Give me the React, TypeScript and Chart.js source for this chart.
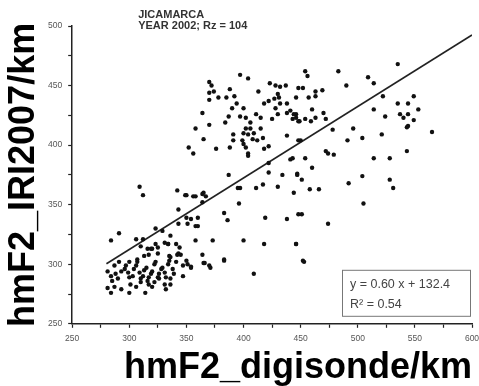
import React, { useEffect, useRef } from "react";
import { Chart, registerables } from "chart.js";

Chart.register(...registerables);

const headerLines = ["JICAMARCA", "YEAR 2002; Rz = 104"];
const xAxisTitle = "hmF2_digisonde/km";
const yAxisTitle = "hmF2_IRI2007/km";
const fitSlope = 0.6;
const fitIntercept = 132.4;
const fitRange = [280, 600];
const fitLabel = "y = 0.60 x + 132.4";
const r2Label = "R\u00B2 = 0.54";

// hmF2 from digisonde (x) and IRI2007 (y), km
const digisondeKm = [
  397, 404, 370, 372, 370, 374, 388, 370, 378, 385, 392, 394, 390, 400, 413, 423, 428, 432, 437, 430,
  431, 427, 422, 418, 432, 438, 428, 430, 425, 438, 441, 446, 443, 448, 448, 446, 364, 358, 370, 384,
  387, 397, 402, 406, 411, 415, 402, 400, 404, 406, 409, 415, 417, 412, 408, 391, 391, 399, 400, 402,
  404, 365, 352, 356, 376, 388, 418, 422, 438, 448, 404, 441, 422,
  387, 422, 434, 447, 397, 395, 411, 417, 430, 444, 396, 383, 386, 419, 438, 448, 350, 358, 364, 365,
  367, 364, 350, 354, 360, 358, 358, 373, 400, 418, 446, 364, 365, 370, 350, 354, 383, 409, 452,
  535, 454, 456, 483, 509, 514, 490, 452, 463, 469, 457, 463, 522, 460, 444, 446, 449, 454, 459, 463,
  470, 472, 535, 537, 540, 544, 514, 524, 544, 478, 496, 504, 521, 450, 491, 472, 474, 479, 443, 454,
  514, 528, 543,
  549, 544, 553, 549, 543, 565,
  460, 447, 451, 458, 466, 492, 504, 528, 531, 505, 451, 474, 446, 453,
  309, 312, 342, 349, 356, 343,
  284, 291, 281, 284, 300, 314, 332, 336, 347, 351, 354, 366, 371, 383, 323, 329, 343, 351, 360, 306,
  312, 319, 323, 336, 334, 341, 325, 335, 343,
  281, 284, 288, 290, 285, 293, 296, 299, 300, 303, 304, 306, 307, 309, 310, 312, 313, 315, 316, 317,
  319, 320, 322, 323, 325, 326, 328, 329, 331, 332, 334, 335, 336, 338, 339, 341, 342, 344, 345, 347,
  334, 331, 325, 320, 316, 317, 313, 310, 307, 300, 297, 291, 287, 301, 306, 310, 317, 322, 326, 331,
  336, 293, 320, 287,
];
const iriKm = [
  459, 456, 453, 450, 444, 445, 447, 438, 440, 440, 441, 435, 431, 431, 445, 452, 450, 449, 450, 443,
  440, 439, 437, 435, 435, 435, 431, 426, 422, 427, 429, 426, 422, 420, 448, 440, 427, 414, 417, 419,
  424, 424, 423, 419, 426, 423, 414, 410, 409, 414, 410, 414, 406, 404, 405, 409, 404, 404, 401, 398,
  393, 405, 398, 393, 397, 398, 397, 399, 408, 404, 391, 388, 385,
  375, 377, 375, 375, 364, 364, 364, 367, 365, 360, 351, 343, 337, 339, 338, 342, 358, 357, 359, 360,
  357, 352, 339, 338, 339, 332, 320, 320, 320, 317, 317, 308, 301, 299, 303, 298, 304, 292, 303,
  468, 462, 458, 462, 457, 452, 450, 448, 445, 446, 440, 441, 441, 430, 426, 423, 420, 422, 420, 423,
  427, 422, 435, 426, 423, 426, 430, 424, 416, 413, 414, 406, 409, 404, 404, 395, 393, 392, 389, 389,
  389, 389, 395,
  441, 435, 430, 421, 415, 411,
  381, 376, 371, 363, 363, 368, 374, 371, 364, 351, 342, 334, 317, 302,
  365, 358, 362, 358, 357, 346,
  320, 326, 280, 276, 276, 276, 279, 283, 290, 300, 297, 301, 297, 303, 330, 328, 334, 334, 332, 321,
  321, 313, 317, 324, 317, 317, 309, 307, 309,
  294, 290, 292, 288, 286, 294, 296, 293, 289, 290, 296, 299, 302, 293, 288, 290, 295, 297, 286, 289,
  292, 294, 300, 302, 289, 292, 296, 297, 293, 289, 300, 303, 306, 296, 292, 302, 308, 314, 308, 299,
  317, 318, 314, 313, 313, 308, 307, 315, 304, 302, 299, 302, 299, 283, 281, 285, 283, 285, 288, 283,
  288, 279, 281, 281,
];

const FONT = "'Liberation Sans', Arial, sans-serif";

const annotationPlugin = {
  id: "annotations",
  afterDraw(chart: any) {
    const { ctx, chartArea: a } = chart;
    ctx.save();
    // header
    ctx.fillStyle = "#333";
    ctx.font = `bold 11px ${FONT}`;
    ctx.textAlign = "left";
    ctx.textBaseline = "alphabetic";
    ctx.fillText(headerLines[0], a.left + 66, a.top - 8);
    ctx.fillText(headerLines[1], a.left + 66, a.top + 3);
    // equation box
    const bw = 128;
    const bh = 46;
    const bx = a.right - 2 - bw;
    const by = a.bottom - 8 - bh;
    ctx.strokeStyle = "#777";
    ctx.lineWidth = 1;
    ctx.strokeRect(bx + 0.5, by + 0.5, bw, bh);
    ctx.fillStyle = "#444";
    ctx.font = `12.5px ${FONT}`;
    ctx.fillText(fitLabel, bx + 8, by + 18);
    ctx.fillText(r2Label, bx + 8, by + 38);
    ctx.restore();
  },
};

export default function App() {
  const ref = useRef<HTMLCanvasElement>(null);
  useEffect(() => {
    document.body.style.margin = "0";
    document.body.style.overflow = "hidden";
    const points = digisondeKm.map((x, i) => ({ x, y: iriKm[i] }));
    const fit = fitRange.map((x) => ({ x, y: fitSlope * x + fitIntercept }));
    const tickStyle = { size: 8.5, family: FONT };
    const chart = new Chart(ref.current!, {
      type: "scatter",
      data: {
        datasets: [
          {
            data: points,
            backgroundColor: "#111",
            borderWidth: 0,
            pointRadius: 2.2,
          },
          {
            type: "line",
            data: fit,
            borderColor: "#222",
            borderWidth: 1.6,
            pointRadius: 0,
            fill: false,
          } as any,
        ],
      },
      options: {
        animation: false,
        responsive: true,
        maintainAspectRatio: false,
        layout: { padding: { left: 0, right: 0, top: 26, bottom: 0 } },
        plugins: { legend: { display: false }, tooltip: { enabled: false } },
        scales: {
          x: {
            type: "linear",
            min: 250,
            max: 600,
            afterFit: (scale: any) => {
              scale.paddingRight = 7;
            },
            border: { display: true, color: "#222", width: 1.5 },
            grid: { drawOnChartArea: false, drawTicks: true, tickLength: 4, color: "#222", tickWidth: 1.2 },
            ticks: {
              stepSize: 25,
              padding: 6,
              color: "#555",
              font: tickStyle,
              autoSkip: false,
              maxRotation: 0,
              callback: (v: any) => (Number(v) % 50 === 0 ? String(v) : ""),
            },
            title: {
              display: true,
              text: xAxisTitle,
              align: "end",
              color: "#000",
              font: { size: 36, weight: "bold", family: FONT, lineHeight: 1.0 },
              padding: { top: 0, bottom: 0 },
            },
          },
          y: {
            type: "linear",
            min: 250,
            max: 500,
            border: { display: true, color: "#222", width: 1.5 },
            grid: { drawOnChartArea: false, drawTicks: true, tickLength: 4, color: "#222", tickWidth: 1.2 },
            ticks: {
              stepSize: 25,
              padding: 6,
              color: "#555",
              font: tickStyle,
              autoSkip: false,
              callback: (v: any) => (Number(v) % 50 === 0 ? String(v) : ""),
            },
            title: {
              display: true,
              text: yAxisTitle,
              color: "#000",
              font: { size: 36, weight: "bold", family: FONT, lineHeight: 1.0 },
              padding: { top: 6, bottom: 0 },
            },
          },
        },
      },
      plugins: [annotationPlugin],
    });
    return () => chart.destroy();
  }, []);
  return (
    <div style={{ width: 479, height: 386, position: "relative" }}>
      <canvas ref={ref} style={{ display: "block" }} />
    </div>
  );
}
